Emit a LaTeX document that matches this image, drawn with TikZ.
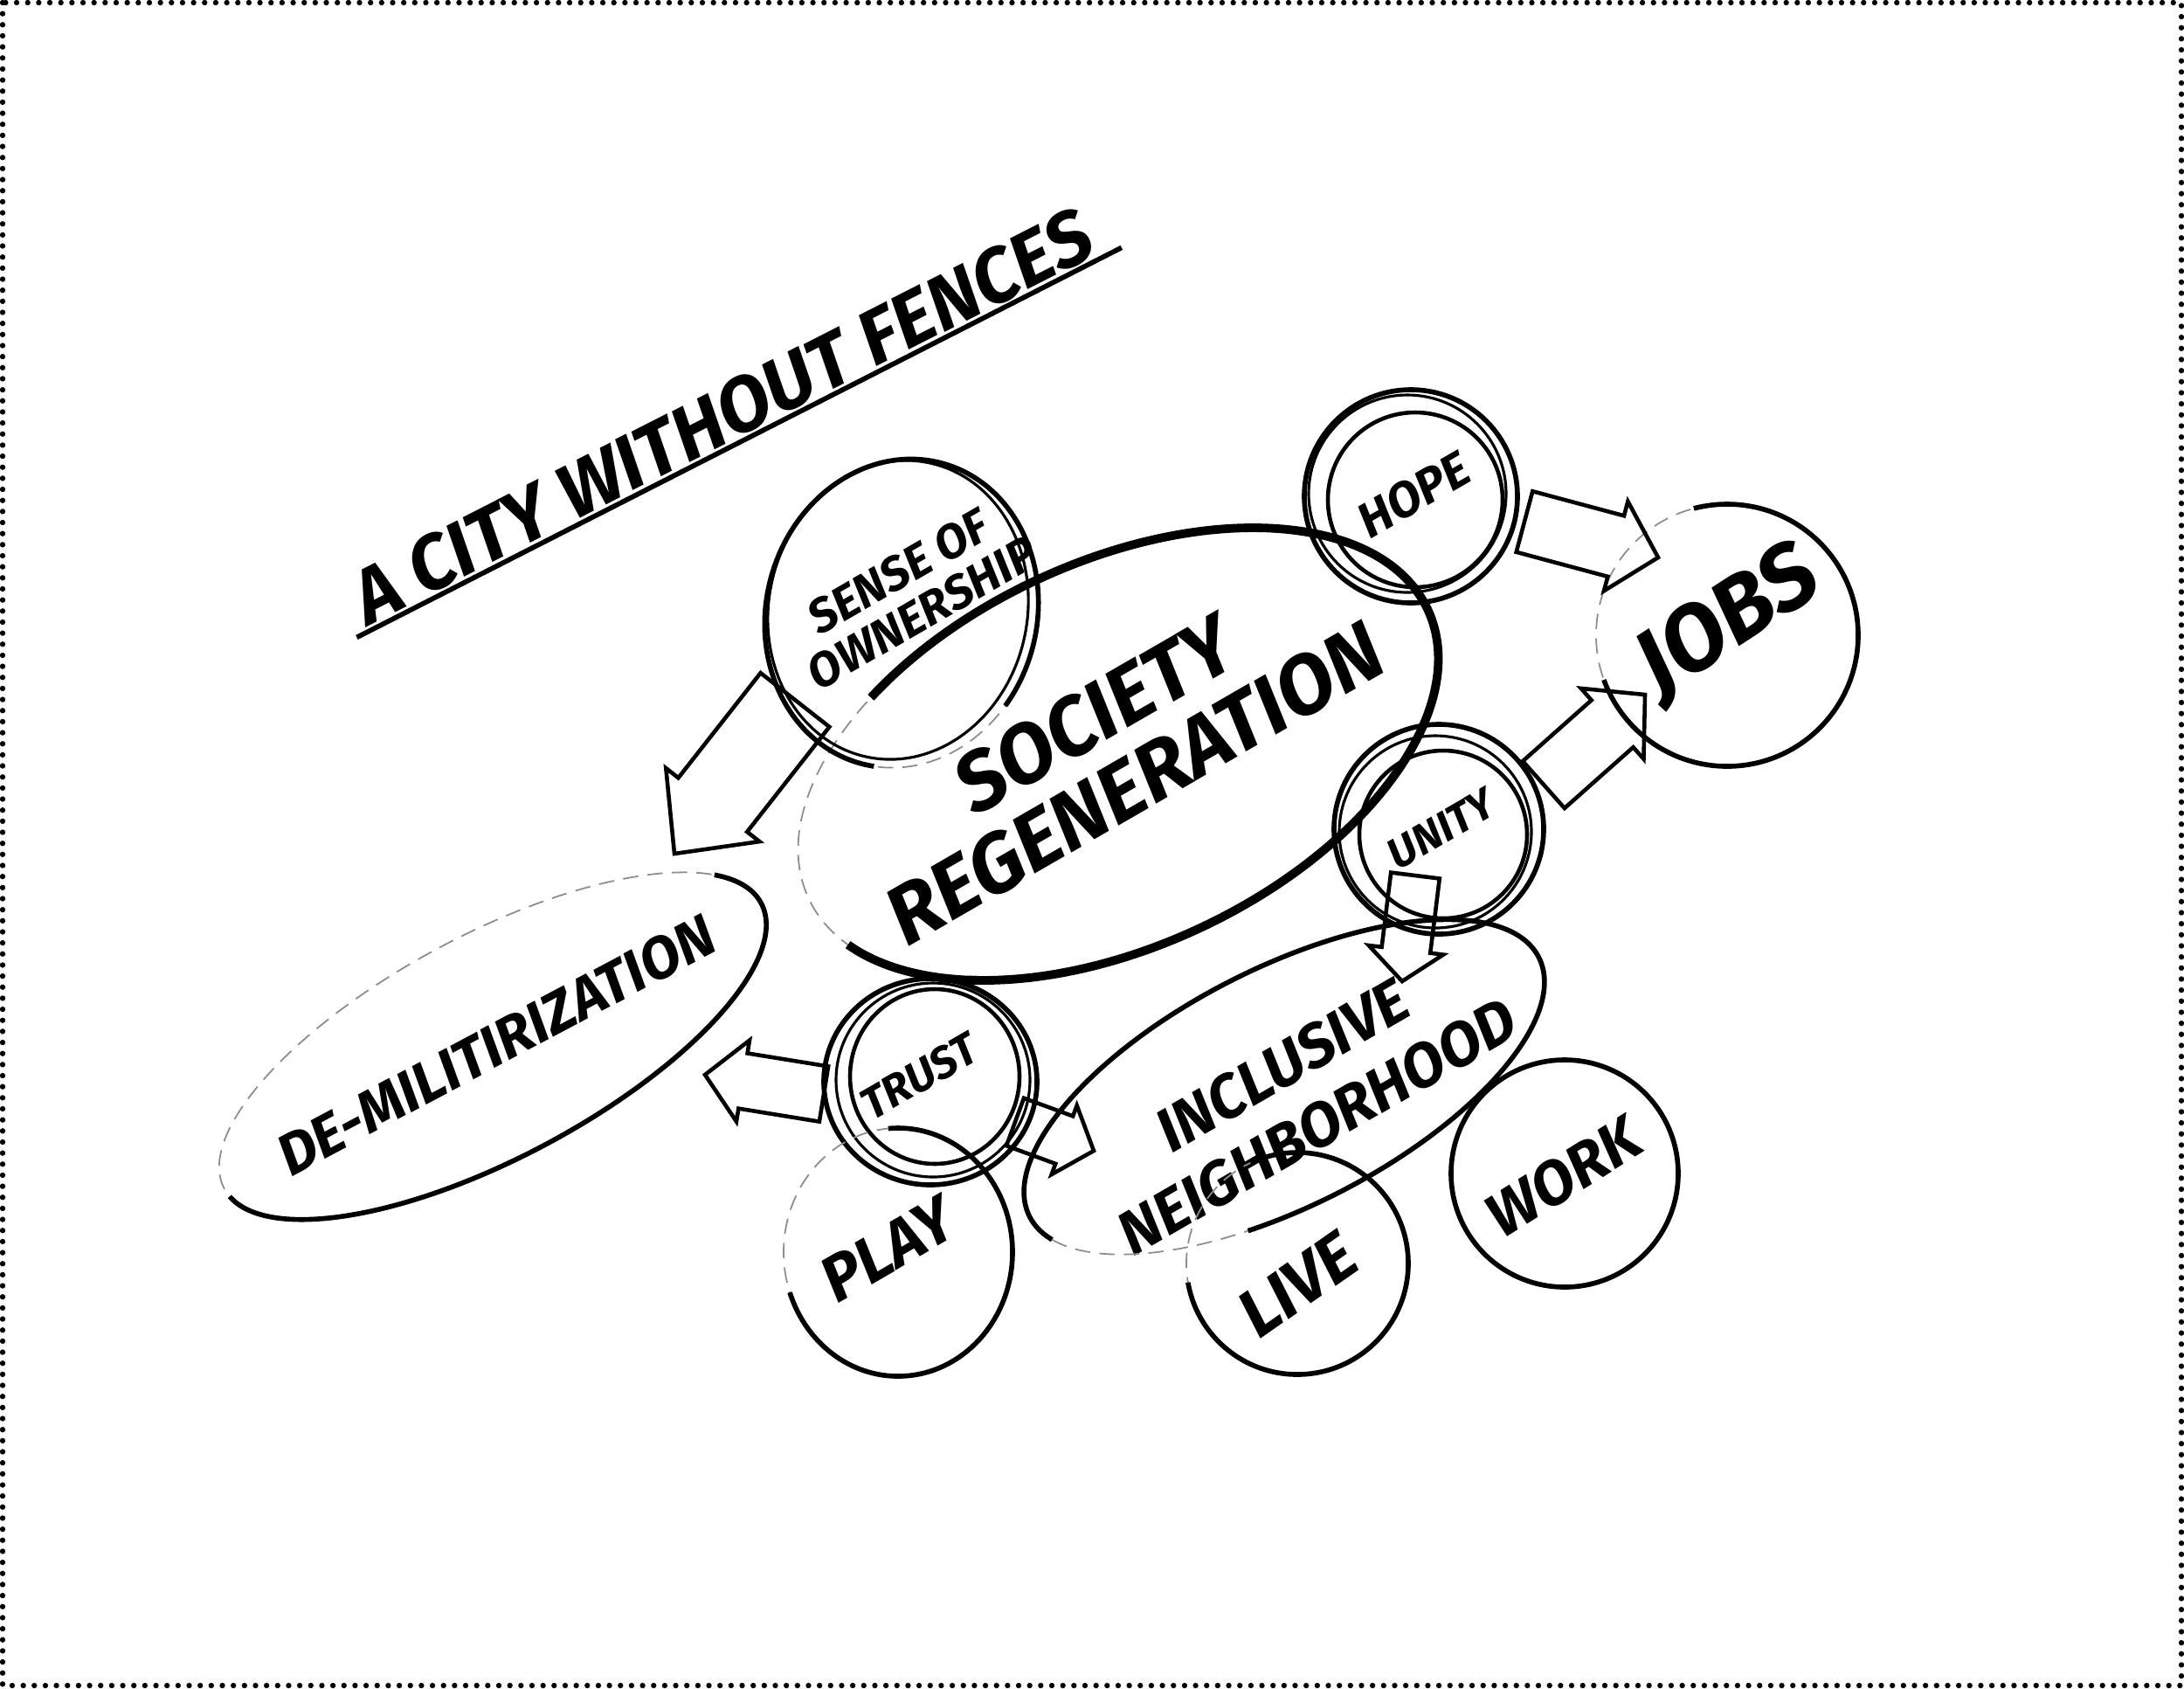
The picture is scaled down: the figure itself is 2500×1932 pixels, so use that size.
\documentclass[tikz,border=0pt]{standalone}
\usepackage{fontspec}
\setmainfont{Fira Sans}
\usetikzlibrary{calc}

% block arrow: start, tip, half width, head half width, head length
\newcommand{\blockarrow}[5]{%
  \coordinate (hb) at ($(#2)!#5!(#1)$);
  \draw[arrowbox] ($(#1)!#3!90:(#2)$) -- ($(hb)!#3!90:(#2)$) -- ($(hb)!#4!90:(#2)$) -- (#2)
    -- ($(hb)!#4!-90:(#2)$) -- ($(hb)!#3!-90:(#2)$) -- ($(#1)!#3!-90:(#2)$) -- cycle;
}

\begin{document}
\begin{tikzpicture}[x=0.01cm, y=-0.01cm,
    rim/.style={draw=black, line width=1.6pt},
    thickrim/.style={draw=black, line width=2.8pt},
    ring/.style={draw=black, line width=0.9pt},
    faint/.style={draw=black!45, line width=0.5pt, dash pattern=on 5pt off 3pt},
    arrowbox/.style={draw=black, line width=1.3pt, line join=miter},
    lbl/.style={align=center, inner sep=1pt, font=\fontsize{#1}{#1}\selectfont\bfseries\itshape},
    dots/.style={line width=1.8pt, line cap=round, dash pattern=on 0pt off 3.6pt}
]
    \useasboundingbox (0,0) rectangle (2500,1932);
    \draw[dots] (3,3) rectangle (2497,1929);

    % labels
    \node[lbl=25, rotate=27, anchor=south] (title) at (843,508) {A CITY WITHOUT FENCES};
    \draw[line width=1.6pt] ($(title.south west)!-4pt!(title.south east)$) -- ($(title.south east)!-6pt!(title.south west)$);
    \node[lbl=15.5, rotate=30] (sense) at (1042,678) {SENSE OF\\OWNERSHIP};
    \node[lbl=27, rotate=30] (soc) at (1276,857) {SOCIETY\\[-1pt]REGENERATION};
    \node[lbl=16, rotate=30] (hope) at (1618,566) {HOPE};
    \node[lbl=30, rotate=33] (jobs) at (1980,713) {JOBS};
    \node[lbl=14, rotate=30] (unity) at (1650,949) {UNITY};
    \node[lbl=20, rotate=30] (incl) at (1488,1254) {INCLUSIVE\\[3pt]NEIGHBORHOOD};
    \node[lbl=19, rotate=28] (demil) at (568,1196) {DE-MILITIRIZATION};
    \node[lbl=14.5, rotate=30] (trust) at (1052,1232) {TRUST};
    \node[lbl=21, rotate=30] (play) at (1016,1430) {PLAY};
    \node[lbl=22, rotate=35] (live) at (1485,1470) {LIVE};
    \node[lbl=20, rotate=32] (work) at (1790,1347) {WORK};

    % society regeneration
    \draw[faint, rotate around={25:(1280,863)}] (1280,863) ellipse [x radius=391, y radius=220];
    \draw[thickrim, dash pattern=on 16.32cm off 3.25cm, dash phase=7.24cm, rotate around={25:(1280,863)}] (1280,863) ellipse [x radius=391, y radius=220];
    \draw[ring, dash pattern=on 4cm off 15.5cm, dash phase=16cm, rotate around={24:(1284,868)}] (1284,868) ellipse [x radius=386, y radius=214];

    % sense of ownership
    \draw[faint, rotate around={-15:(1032,702)}] (1032,702) ellipse [x radius=155, y radius=178];
    \draw[rim, dash pattern=on 8.72cm off 1.74cm, dash phase=7.99cm, rotate around={-15:(1032,702)}] (1032,702) ellipse [x radius=155, y radius=178];
    \draw[ring, rotate around={-12:(1028,698)}] (1028,698) ellipse [x radius=148, y radius=172];

    % hope, unity, trust
    \draw[rim] (1615,568) circle [radius=122];
    \draw[ring] (1611,565) circle [radius=113];
    \draw[line width=1.3pt] (1620,572) circle [radius=100];
    \draw[rim] (1647,949) circle [radius=120];
    \draw[ring] (1643,952) circle [radius=110];
    \draw[line width=1.3pt] (1652,955) circle [radius=96];
    \draw[rim] (1065,1238) ellipse [x radius=122, y radius=118];
    \draw[ring] (1068,1236) circle [radius=111];
    \draw[line width=1.3pt] (1070,1232) ellipse [x radius=97, y radius=100];

    % jobs, play, live, work
    \draw[faint] (1977,727) circle [radius=150];
    \draw[rim, dash pattern=on 6.94cm off 2.49cm, dash phase=2.75cm] (1977,727) circle [radius=150];
    \draw[faint] (1028,1433) ellipse [x radius=131, y radius=142];
    \draw[rim, dash pattern=on 6.08cm off 2.5cm, dash phase=2.26cm] (1028,1433) ellipse [x radius=131, y radius=142];
    \draw[faint] (1485,1446) circle [radius=127];
    \draw[rim, dash pattern=on 6.32cm off 1.66cm, dash phase=2.55cm] (1485,1446) circle [radius=127];
    \draw[rim] (1791,1343) circle [radius=130];

    % de-militirization, inclusive neighborhood
    \draw[faint, rotate around={28:(564,1197)}] (564,1197) ellipse [x radius=348, y radius=128];
    \draw[rim, dash pattern=on 8.42cm off 7.34cm, dash phase=0.65cm, rotate around={28:(564,1197)}] (564,1197) ellipse [x radius=348, y radius=128];
    \draw[faint, rotate around={27:(1470,1244)}] (1470,1244) ellipse [x radius=327, y radius=136];
    \draw[rim, dash pattern=on 12.87cm off 2.3cm, dash phase=7.96cm, rotate around={27:(1470,1244)}] (1470,1244) ellipse [x radius=327, y radius=136];

    % arrows
    \coordinate (own-s) at (910,801);    \coordinate (own-t) at (772,977);
    \coordinate (tru-s) at (943,1252);   \coordinate (tru-t) at (807,1230);
    \coordinate (tri-s) at (1162,1284);  \coordinate (tri-t) at (1252,1317);
    \coordinate (hop-s) at (1745,597);   \coordinate (hop-t) at (1898,638);
    \coordinate (uni-s) at (1767,898);   \coordinate (uni-t) at (1883,795);
    \coordinate (unn-s) at (1620,1002);  \coordinate (unn-t) at (1605,1123);
    \blockarrow{own-s}{own-t}{0.50cm}{0.68cm}{0.71cm}
    \blockarrow{tru-s}{tru-t}{0.32cm}{0.47cm}{0.44cm}
    \blockarrow{tri-s}{tri-t}{0.29cm}{0.42cm}{0.36cm}
    \blockarrow{hop-s}{hop-t}{0.36cm}{0.53cm}{0.50cm}
    \blockarrow{uni-s}{uni-t}{0.36cm}{0.54cm}{0.50cm}
    \blockarrow{unn-s}{unn-t}{0.28cm}{0.43cm}{0.36cm}
\end{tikzpicture}
\end{document}
